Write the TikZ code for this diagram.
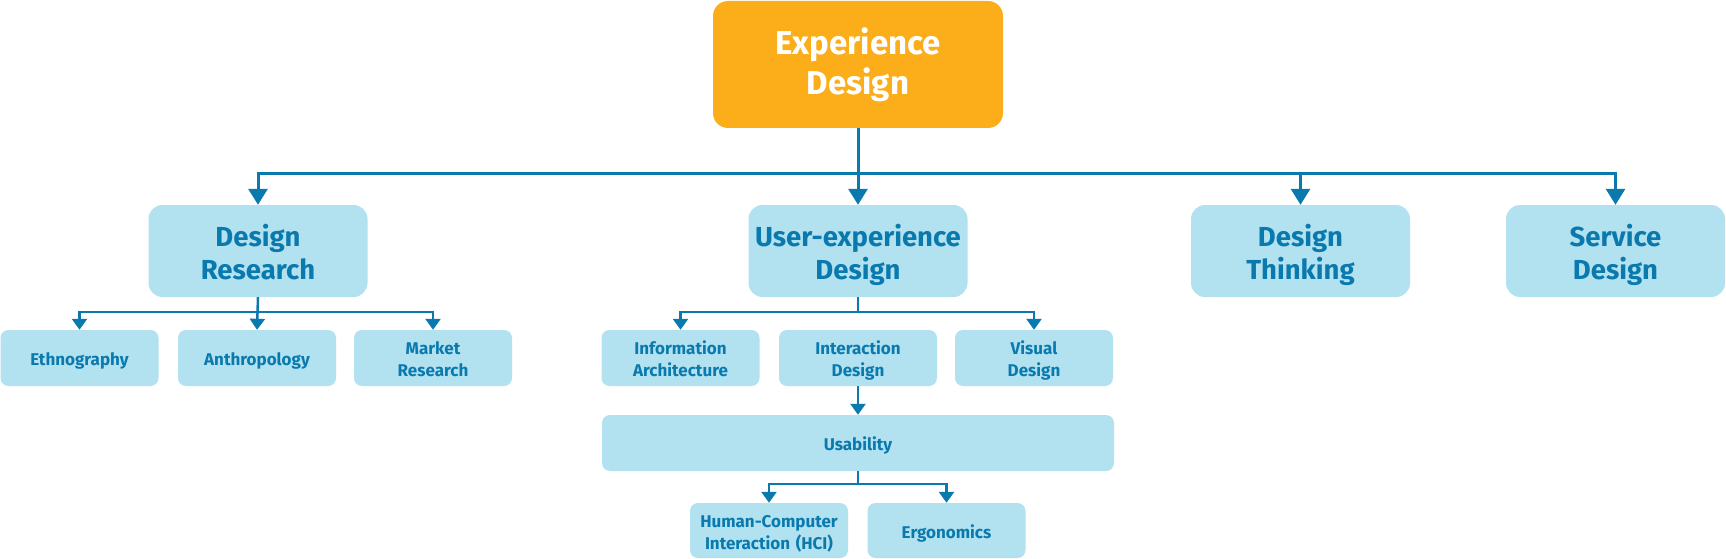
\documentclass[tikz,border=0pt]{standalone}
\usepackage{fontspec}
\setmainfont{Fira Sans}
\usetikzlibrary{arrows.meta, positioning}

\definecolor{xporange}{HTML}{FBAE1A}
\definecolor{xplight}{HTML}{B2E1F0}
\definecolor{xpblue}{HTML}{0A7AAE}

% struts that fix where the text sits in a box
\newcommand\topstrut{\rule[-9pt]{0pt}{37.6pt}}
\newcommand\mainstrut{\rule[-8pt]{0pt}{39.6pt}}
\newcommand\substrut{\rule[-5pt]{0pt}{25.6pt}}

\begin{document}
\begin{tikzpicture}[
    x=1pt, y=-1pt,
    every node/.append style={execute at begin node={\lineskiplimit=-\maxdimen}},
    topbox/.style={fill=xporange, rounded corners=15pt, minimum width=290pt, minimum height=127pt, inner xsep=2pt, text width=280pt, align=center, text=white, font=\bfseries\fontsize{33}{40}\selectfont, execute at begin node=\topstrut, execute at end node=\topstrut},
    mainbox/.style={fill=xplight, rounded corners=14pt, minimum width=219pt, minimum height=92pt, inner xsep=2pt, text width=215pt, align=center, text=xpblue, font=\bfseries\fontsize{27.5}{32.5}\selectfont, execute at begin node=\mainstrut, execute at end node=\mainstrut},
    subbox/.style={fill=xplight, rounded corners=8pt, minimum width=158pt, minimum height=56pt, inner xsep=2pt, inner ysep=2pt, text width=154pt, align=center, text=xpblue, font=\bfseries\fontsize{17}{22}\selectfont, execute at begin node=\substrut, execute at end node=\substrut},
    bigarrow/.style={-{Triangle[length=16pt, width=19pt]}, line width=3pt, draw=xpblue},
    arrow/.style={-{Triangle[length=11pt, width=15pt]}, line width=2.5pt, draw=xpblue}
]
\useasboundingbox (0,0) rectangle (1726,559);

\node[topbox] (exp) at (858,64.5) {Experience\\Design};

\node[mainbox] (dres) at (258,251) {Design\\Research};
\node[mainbox] (uxd) at (858,251) {User-experience\\Design};
\node[mainbox] (dthink) at (1300.5,251) {Design\\Thinking};
\node[mainbox] (sdes) at (1615.5,251) {Service\\Design};

\node[subbox] (eth) at (79.5,358) {Ethnography};
\node[subbox] (anth) at (257,358) {Anthropology};
\node[subbox] (mres) at (433,358) {Market\\Research};

\node[subbox] (infa) at (680.5,358) {Information\\Architecture};
\node[subbox] (ixd) at (858,358) {Interaction\\Design};
\node[subbox] (vis) at (1034,358) {Visual\\Design};

\node[subbox, minimum width=512pt] (usab) at (858,443) {Usability};

\node[subbox, minimum height=55pt] (hci) at (769,530.5) {Human-Computer\\Interaction (HCI)};
\node[subbox, minimum height=55pt] (ergo) at (946.5,530.5) {Ergonomics};

% bus lines
\coordinate (bus1) at (858,173);
\coordinate (bus2) at (258,312);
\coordinate (bus3) at (858,312);
\coordinate (bus4) at (858,484);

\draw[bigarrow] (exp.south) -- (uxd.north);
\draw[bigarrow] (bus1) -| (dres.north);
\draw[bigarrow] (bus1) -| (dthink.north);
\draw[bigarrow] (bus1) -| (sdes.north);

\draw[arrow] (dres.south) -- (anth.north);
\draw[arrow] (bus2) -| (eth.north);
\draw[arrow] (bus2) -| (mres.north);

\draw[arrow] (uxd.south) -- (bus3) -| (infa.north);
\draw[arrow] (bus3) -| (vis.north);
\draw[arrow] (ixd.south) -- (usab.north);

\draw[line width=2.5pt, draw=xpblue] (usab.south) -- (bus4);
\draw[arrow] (bus4) -| (hci.north);
\draw[arrow] (bus4) -| (ergo.north);
\end{tikzpicture}
\end{document}
